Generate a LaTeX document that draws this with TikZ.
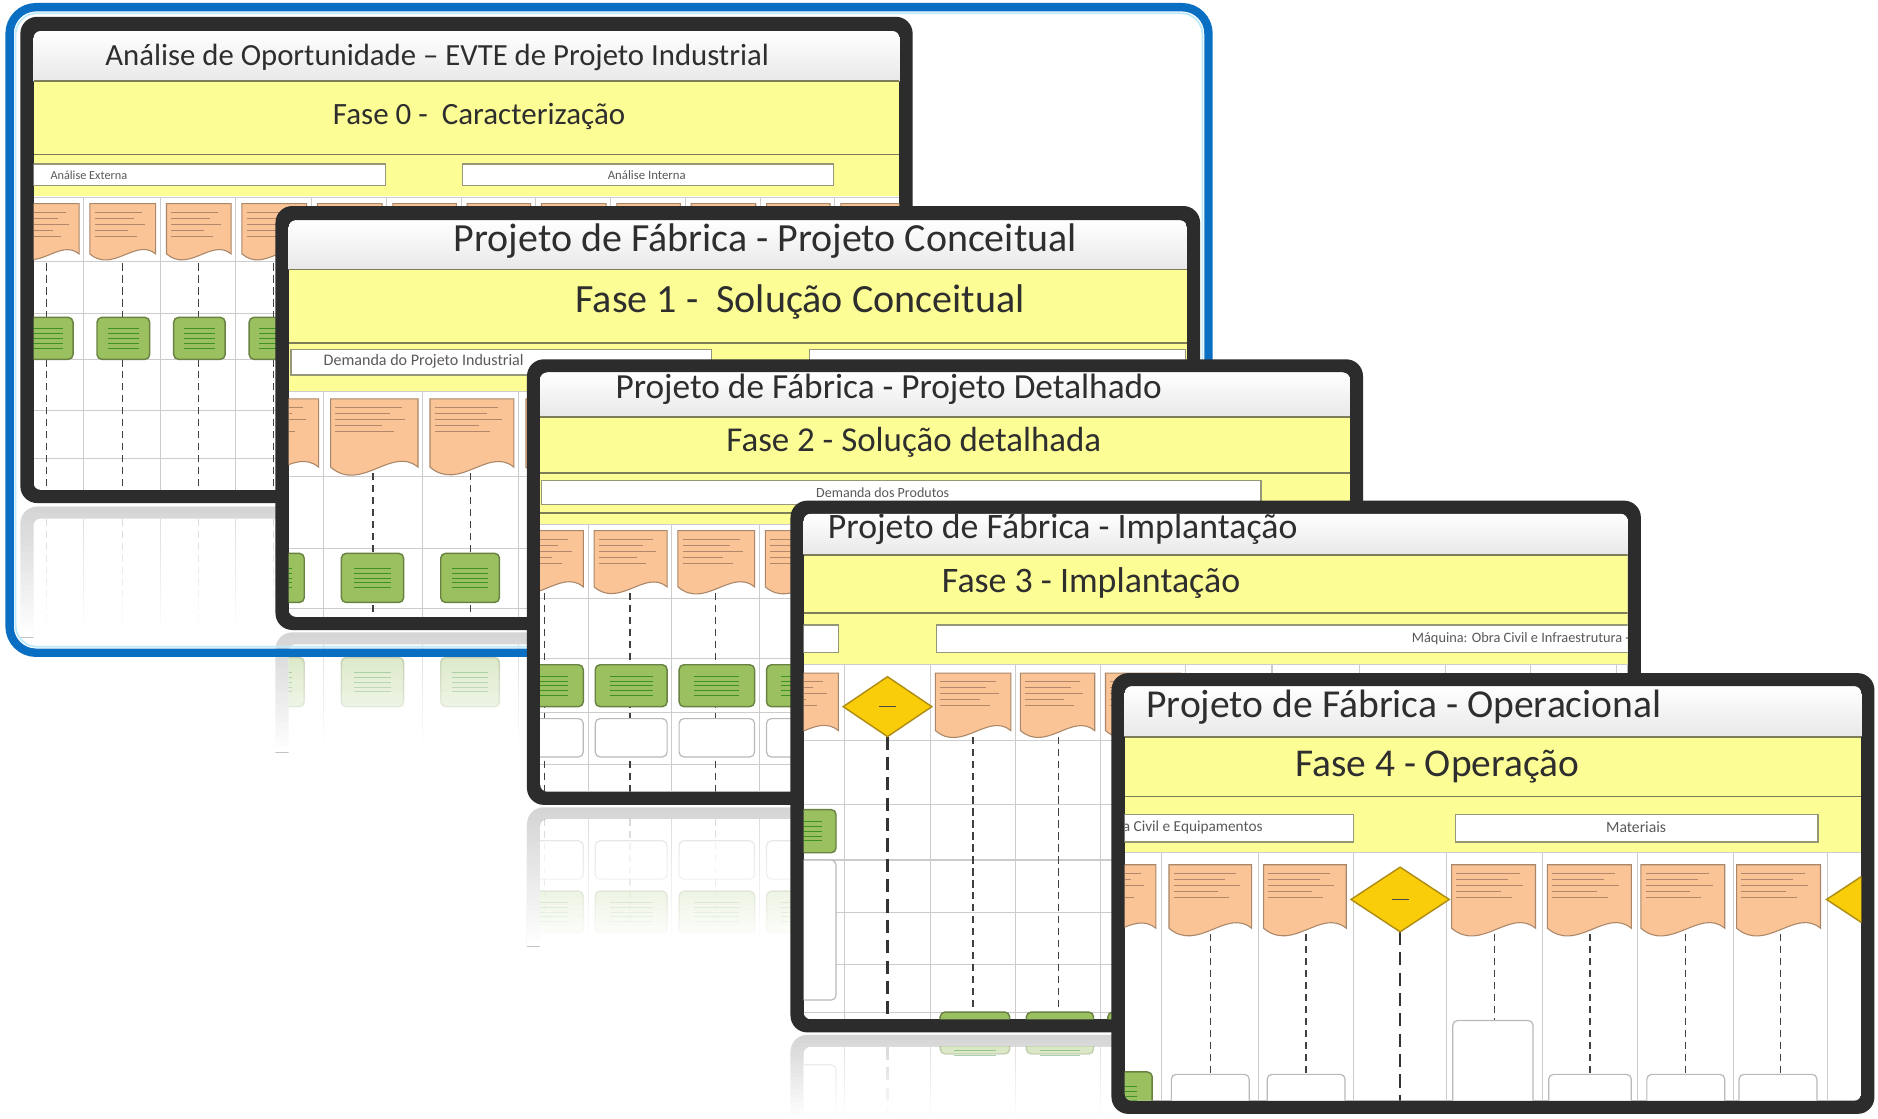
\documentclass[tikz,border=0pt]{standalone}
\usepackage{fontspec}
\setmainfont{Carlito}
\usepackage{graphicx}
\definecolor{frmc}{RGB}{44,44,44}
\definecolor{yel}{RGB}{253,253,150}
\definecolor{docf}{RGB}{250,196,150}
\definecolor{docb}{RGB}{170,135,105}
\definecolor{grf}{RGB}{155,192,95}
\definecolor{grb}{RGB}{105,130,65}
\definecolor{diaf}{RGB}{250,205,10}
\definecolor{diab}{RGB}{175,140,20}
\definecolor{bandc}{RGB}{125,125,90}
\definecolor{lblc}{RGB}{150,150,120}
\definecolor{scribc}{RGB}{150,110,90}
\definecolor{bluec}{RGB}{10,110,195}
\definecolor{reflc}{RGB}{195,195,195}
\tikzset{
  frm/.style={fill=frmc, rounded corners=14pt},
  docst/.style={fill=docf, draw=docb, line width=0.9pt},
  gst/.style={fill=grf, draw=grb, line width=1.2pt, rounded corners=4pt},
  wst/.style={fill=white, draw=gray!55, line width=1pt, rounded corners=4pt},
  diast/.style={fill=diaf, draw=diab, line width=1.2pt},
  gridst/.style={draw=gray!40, line width=0.9pt},
  dashst/.style={draw=black!75, line width=1.1pt, dash pattern=on 6pt off 4pt},
  dashbig/.style={draw=black!80, line width=2pt, dash pattern=on 11pt off 6pt},
  bandln/.style={draw=bandc, line width=1.6pt},
  lblbox/.style={fill=white, draw=lblc, line width=1.2pt},
  scrib/.style={draw=scribc, line width=0.6pt, opacity=0.7},
  gscrib/.style={draw=black!55!green, line width=0.6pt, opacity=0.6},
  dscrib/.style={draw=black!70, line width=1.2pt},
  ttl/.style={inner sep=0pt, text=black!82},
  smallt/.style={inner sep=0pt, text=black!65},
  titlebar/.style={top color=white, bottom color=black!9},
}
\newcommand\fw[2]{\resizebox{#1pt}{!}{#2}}
\newcommand\docsh[4]{%
  \pgfmathsetmacro\dsw{(#3)-(#1)}%
  \filldraw[docst] (#1,#2) -- (#3,#2) -- (#3,#4) .. controls ({#3-0.3*\dsw},{#4-0.25*\dsw}) and ({#1+0.35*\dsw},{#4+0.3*\dsw}) .. (#1,#4) -- cycle;
  \foreach \k/\f in {0/0.85,1/0.7,2/0.9,3/0.6,4/0.75}{\draw[scrib] ({#1+4},{#2+7+5*\k}) -- ({#1+4+(\dsw-8)*\f},{#2+7+5*\k});}%
}
\newcommand\gbx[4]{%
  \filldraw[gst] (#1,#2) rectangle (#3,#4);
  \pgfmathsetmacro\gcx{((#1)+(#3))/2}\pgfmathsetmacro\gcy{((#2)+(#4))/2}\pgfmathsetmacro\gw{((#3)-(#1))*0.3}%
  \foreach \k in {-2,...,2}{\draw[gscrib] ({\gcx-\gw},{\gcy+4*\k}) -- ({\gcx+\gw},{\gcy+4*\k});}%
}
\newcommand\wbx[4]{\filldraw[wst] (#1,#2) rectangle (#3,#4);}
\newcommand\diam[4]{%
  \filldraw[diast] ({#1-#3/2},#2) -- (#1,{#2-#4/2}) -- ({#1+#3/2},#2) -- (#1,{#2+#4/2}) -- cycle;
  \draw[dscrib] ({#1-7},#2) -- ({#1+7},#2);}
\newcommand\fadeout[4]{%
  \foreach \k in {0,...,19}{\pgfmathsetmacro\fo{0.3+0.7*\k/19}%
    \fill[white,opacity=\fo] (#1,{#2+(#4-#2)*\k/20}) rectangle (#3,{#2+(#4-#2)*(\k+1)/20});}%
}
\newcommand\reflfr[4]{%
  \begin{scope}\clip (#1,#2) rectangle (#3,#4);
  \fill[reflc, rounded corners=14pt] (#1,#2) rectangle (#3,{#2+300});
  \fill[white, rounded corners=6pt] ({#1+11},{#2+10}) rectangle ({#3-11},{#2+300});
  \end{scope}}
\begin{document}
\begin{tikzpicture}[x=1pt,y=-1pt]
\useasboundingbox (0,0) rectangle (1568,934);
\fill[white] (0,0) rectangle (1568,934);

% ===== Frame 0 =====
\fill[frm] (17,14) rectangle (762,420);
\begin{scope}
\clip[rounded corners=6pt] (28,26) rectangle (751,409);
\fill[white] (28,26) rectangle (751,409);
\shade[titlebar] (28,26) rectangle (751,68);
\fill[yel] (28,68) rectangle (751,164);
\draw[bandln] (28,68) -- (751,68);
\draw[bandln] (28,129) -- (751,129);
\filldraw[lblbox] (20,137) rectangle (322,155);
\filldraw[lblbox] (386,137) rectangle (696,155);
\node[smallt, anchor=west] (l0a) at (42,146) {\fw{64}{Análise Externa}};
\node[smallt] (l0b) at (540,146) {\fw{65}{Análise Interna}};
\draw[gridst] (28,165) -- (751,165);
\foreach \y in {218,262,300,343,383} \draw[gridst] (28,\y) -- (751,\y);
\foreach \x in {70,134,197,260,323,385,447,510,572,635,697} \draw[gridst] (\x,165) -- (\x,409);
\foreach \a/\b in {8/70,70/134,134/197,197/260,260/323,323/385,385/447,447/510,510/572,572/635,635/697,697/760} {\docsh{\a+5}{170}{\b-4}{212}}
\foreach \x in {39,102,165.5,228.5} \draw[dashst] (\x,220) -- (\x,409);
\foreach \a/\b in {8/70,70/134,134/197,197/260} {\gbx{\a+11}{265}{\b-9}{300}}
\node[ttl] (t0) at (365,48) {\fw{554}{Análise de Oportunidade – EVTE de Projeto Industrial}};
\node[ttl] (p0) at (400,97) {\fw{244}{Fase 0 -~~Caracterização}};
\end{scope}
% reflection 0
\reflfr{17}{423}{762}{532}
\begin{scope}
\clip (28,433) rectangle (751,532);
\foreach \x in {70,134,197,260,323,385,447,510,572,635,697} \draw[gridst] (\x,433) -- (\x,532);
\foreach \x in {39,102,165.5,228.5} \draw[dashst, opacity=0.3] (\x,433) -- (\x,532);
\end{scope}
\fadeout{17}{423}{762}{532}

% ===== Frame 1 =====
\fill[frm] (230,172) rectangle (1002,526);
\begin{scope}
\clip[rounded corners=6pt] (241,184) rectangle (991,515);
\fill[white] (241,184) rectangle (991,515);
\shade[titlebar] (241,184) rectangle (991,225);
\fill[yel] (241,225) rectangle (991,327);
\draw[bandln] (241,225) -- (991,225);
\draw[bandln] (241,286) -- (991,286);
\filldraw[lblbox] (243,292) rectangle (594,313);
\filldraw[lblbox] (676,292) rectangle (990,313);
\node[smallt, anchor=west] (l1a) at (270,302) {\fw{167}{Demanda do Projeto Industrial}};
\draw[gridst] (241,327) -- (991,327);
\foreach \y in {398,458,508} \draw[gridst] (241,\y) -- (991,\y);
\foreach \x in {270,353,433,513,593,673,753,833,913} \draw[gridst] (\x,327) -- (\x,515);
\foreach \a/\b in {190/270,270/353,353/433,433/513,513/593} {\docsh{\a+6}{333}{\b-4}{390}}
\foreach \x in {230,311.5,393,473} \draw[dashst] (\x,395) -- (\x,515);
\foreach \a/\b in {190/270,270/353,353/433,433/513} {\gbx{\a+15}{462}{\b-16}{503}}
\node[ttl] (t1) at (639,201) {\fw{520}{Projeto de Fábrica - Projeto Conceitual}};
\node[ttl] (p1) at (668,252) {\fw{375}{Fase 1 -~~Solução Conceitual}};
\end{scope}
% reflection 1
\reflfr{230}{528}{1002}{628}
\begin{scope}
\clip (241,538) rectangle (991,628);
\foreach \x in {270,353,433} \draw[gridst] (\x,538) -- (\x,628);
\foreach \a/\b in {190/270,270/353,353/433} {\begin{scope}[opacity=0.6]\gbx{\a+15}{549}{\b-16}{590}\end{scope}}
\end{scope}
\fadeout{230}{528}{1002}{628}

% ===== blue frame =====
\draw[bluec, line width=7pt, rounded corners=22pt] (8,6) rectangle (1009,545);
\draw[cyan!25, line width=1.5pt, rounded corners=18pt] (13,11) rectangle (1004,540);

% ===== Frame 2 =====
\fill[frm] (440,300) rectangle (1138,672);
\begin{scope}
\clip[rounded corners=6pt] (451,311) rectangle (1127,661);
\fill[white] (451,311) rectangle (1127,661);
\shade[titlebar] (451,311) rectangle (1127,348);
\fill[yel] (451,348) rectangle (1127,438);
\draw[bandln] (451,348) -- (1127,348);
\draw[bandln] (451,395) -- (1127,395);
\filldraw[lblbox] (452,401) rectangle (1053,421);
\draw[bandln] (451,428) -- (1127,428);
\node[smallt] (l2a) at (737,411) {\fw{111}{Demanda dos Produtos}};
\draw[gridst] (451,438) -- (1127,438);
\foreach \y in {500,550,595,638} \draw[gridst] (451,\y) -- (1127,\y);
\foreach \x in {491,561,634,706,777,848,920,991,1062} \draw[gridst] (\x,438) -- (\x,661);
\foreach \a/\b in {418/491,491/561,561/634,634/706,706/777} {\docsh{\a+5}{443}{\b-4}{490}}
\foreach \x in {454.5,526,597.5,670} \draw[dashst] (\x,495) -- (\x,661);
\foreach \a/\b in {418/491,491/561,561/634,634/706} {\gbx{\a+6}{555}{\b-4}{590}\wbx{\a+6}{600}{\b-4}{632}}
\node[ttl] (t2) at (742,325) {\fw{456}{Projeto de Fábrica - Projeto Detalhado}};
\node[ttl] (p2) at (763,369) {\fw{313}{Fase 2 - Solução detalhada}};
\end{scope}
% reflection 2
\reflfr{440}{674}{1138}{790}
\begin{scope}
\clip (451,684) rectangle (1127,790);
\foreach \x in {491,561,634} \draw[gridst] (\x,684) -- (\x,790);
\foreach \x in {454.5,526,597.5} \draw[dashst, opacity=0.3] (\x,684) -- (\x,790);
\foreach \a/\b in {418/491,491/561,561/634,634/706} {\begin{scope}[opacity=0.6]\wbx{\a+6}{702}{\b-4}{734}\gbx{\a+6}{744}{\b-4}{779}\end{scope}}
\end{scope}
\fadeout{440}{674}{1138}{790}

% ===== Frame 3 =====
\fill[frm] (660,418) rectangle (1370,862);
\begin{scope}
\clip[rounded corners=6pt] (671,429) rectangle (1359,851);
\fill[white] (671,429) rectangle (1359,851);
\shade[titlebar] (671,429) rectangle (1359,463);
\fill[yel] (671,463) rectangle (1359,555);
\draw[bandln] (671,463) -- (1359,463);
\draw[bandln] (671,512) -- (1359,512);
\filldraw[lblbox] (600,522) rectangle (700,545);
\filldraw[lblbox] (782,522) rectangle (1400,545);
\node[smallt, anchor=east] (l3a) at (1361,533) {\fw{182}{Máquina: Obra Civil e Infraestrutura -}};
\draw[gridst] (671,555) -- (1359,555);
\foreach \y in {618,672,718,762,805,845} \draw[gridst] (671,\y) -- (1359,\y);
\foreach \x in {705,777,848,919,990,1062,1135,1207,1278,1350} \draw[gridst] (\x,555) -- (\x,851);
\docsh{635}{562}{700}{610}
\docsh{781}{562}{844}{610}
\docsh{852}{562}{914}{610}
\docsh{923}{562}{986}{610}
\draw[dashbig] (741,615) -- (741,851);
\foreach \x in {812.5,883.5} \draw[dashst] (\x,615) -- (\x,845);
\diam{741}{590}{74}{50}
\gbx{640}{676}{698}{712}
\wbx{640}{718}{698}{835}
\gbx{785}{845}{843}{875}
\gbx{857}{845}{913}{875}
\gbx{925}{845}{985}{875}
\node[ttl, anchor=west] (t3) at (691,442) {\fw{392}{Projeto de Fábrica - Implantação}};
\node[ttl] (p3) at (911,487) {\fw{249}{Fase 3 - Implantação}};
\end{scope}
% reflection 3
\reflfr{660}{864}{1370}{934}
\begin{scope}
\clip (671,874) rectangle (1359,934);
\foreach \x in {705,777,848,919} \draw[gridst] (\x,874) -- (\x,934);
\draw[dashbig, opacity=0.3] (741,874) -- (741,934);
\begin{scope}[opacity=0.6]
\gbx{785}{866}{843}{880}
\gbx{857}{866}{913}{880}
\wbx{640}{889}{698}{1000}
\end{scope}
\end{scope}
\fadeout{660}{864}{1370}{934}

% ===== Frame 4 =====
\fill[frm] (928,562) rectangle (1565,930);
\begin{scope}
\clip[rounded corners=6pt] (939,573) rectangle (1554,919);
\fill[white] (939,573) rectangle (1554,919);
\shade[titlebar] (939,573) rectangle (1554,615);
\fill[yel] (939,615) rectangle (1554,712);
\draw[bandln] (939,615) -- (1554,615);
\draw[bandln] (939,665) -- (1554,665);
\filldraw[lblbox] (880,680) rectangle (1130,703);
\filldraw[lblbox] (1215,680) rectangle (1518,703);
\node[smallt, anchor=west] (l4a) at (918,691) {\fw{136}{Obra Civil e Equipamentos}};
\node[smallt] (l4b) at (1366,691) {\fw{50}{Materiais}};
\draw[gridst] (939,712) -- (1554,712);
\foreach \x in {970,1051,1130,1208,1288,1367,1447,1526} \draw[gridst] (\x,712) -- (\x,919);
\docsh{900}{722}{965}{775}
\docsh{976}{722}{1045}{775}
\docsh{1055}{722}{1124}{775}
\docsh{1212}{722}{1282}{775}
\docsh{1292}{722}{1362}{775}
\docsh{1370}{722}{1440}{775}
\docsh{1450}{722}{1520}{775}
\foreach \x in {1010.5,1090.5,1327.5,1407,1486.5} \draw[dashst] (\x,780) -- (\x,897);
\draw[dashst] (1248,780) -- (1248,852);
\draw[dashbig] (1169,778) -- (1169,919);
\diam{1169}{751}{82}{54}
\diam{1566}{751}{82}{54}
\wbx{978}{897}{1043}{935}
\wbx{1058}{897}{1123}{935}
\wbx{1293}{897}{1362}{935}
\wbx{1375}{897}{1440}{935}
\wbx{1452}{897}{1517}{935}
\wbx{1213}{852}{1280}{935}
\gbx{900}{895}{962}{935}
\node[ttl, anchor=west] (t4) at (957,590) {\fw{430}{Projeto de Fábrica - Operacional}};
\node[ttl] (p4) at (1200,640) {\fw{237}{Fase 4 - Operação}};
\end{scope}
\end{tikzpicture}
\end{document}
